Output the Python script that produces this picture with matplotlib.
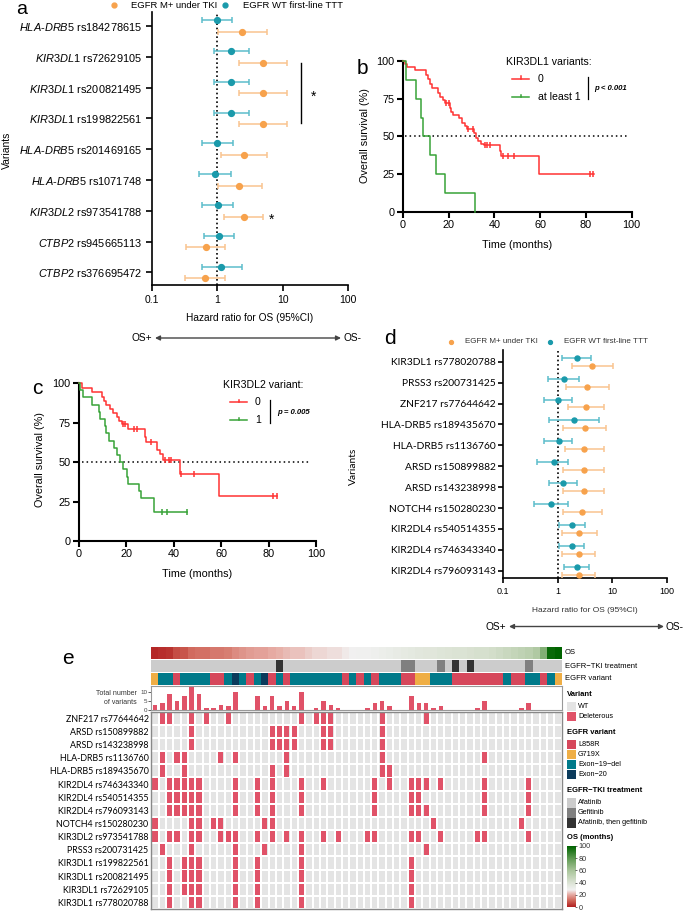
import numpy as np
import matplotlib
matplotlib.use('Agg')
import matplotlib.pyplot as plt
from matplotlib.colors import ListedColormap, LinearSegmentedColormap
from matplotlib.patches import Rectangle
from matplotlib.lines import Line2D

W, H = 685, 911
plt.rcParams['font.family'] = ['Liberation Sans', 'DejaVu Sans']
plt.rcParams['mathtext.fontset'] = 'custom'
plt.rcParams['mathtext.it'] = 'Liberation Sans:italic'
plt.rcParams['mathtext.rm'] = 'Liberation Sans'

ORANGE = '#f7a24c'
ORANGE_L = '#f9c48f'
TEAL = '#1a9aab'
TEAL_L = '#5dbdcb'
KM_RED = '#ff3333'
KM_GREEN = '#38a338'

# ---------------- panel a : forest plot (germline genes, italic) ----------------
a_genes = ['HLA-DRB5', 'KIR3DL1', 'KIR3DL1', 'KIR3DL1', 'HLA-DRB5', 'HLA-DRB5',
           'KIR3DL2', 'CTBP2', 'CTBP2']
a_rs = ['rs184278615', 'rs72629105', 'rs200821495', 'rs199822561', 'rs201469165',
        'rs1071748', 'rs973541788', 'rs945665113', 'rs376695472']
a_hr_m = [2.44, 5.0, 5.0, 5.0, 2.59, 2.17, 2.59, 0.67, 0.66]
a_lo_m = [1.04, 2.15, 2.15, 2.15, 1.14, 1.04, 1.28, 0.34, 0.32]
a_hi_m = [5.69, 11.6, 11.6, 11.6, 5.83, 4.77, 5.06, 1.34, 1.34]
a_hr_w = [1.0, 1.64, 1.64, 1.64, 1.01, 0.94, 1.02, 1.06, 1.16]
a_lo_w = [0.58, 0.89, 0.89, 0.89, 0.59, 0.53, 0.59, 0.62, 0.59]
a_hi_w = [1.70, 3.05, 3.05, 3.05, 1.76, 1.64, 1.76, 1.84, 2.36]

# ---------------- panel d : forest plot ----------------
d_labels = ['KIR3DL1 rs778020788', 'PRSS3 rs200731425', 'ZNF217 rs77644642',
            'HLA-DRB5 rs189435670', 'HLA-DRB5 rs1136760', 'ARSD rs150899882',
            'ARSD rs143238998', 'NOTCH4 rs150280230', 'KIR2DL4 rs540514355',
            'KIR2DL4 rs746343340', 'KIR2DL4 rs796093143']
d_hr_m = [4.33, 3.45, 3.31, 3.13, 3.08, 3.04, 3.04, 2.84, 2.50, 2.43, 2.43]
d_lo_m = [1.81, 1.42, 1.53, 1.23, 1.33, 1.27, 1.27, 1.27, 1.22, 1.22, 1.22]
d_hi_m = [10.5, 8.6, 7.2, 7.7, 7.2, 7.2, 7.2, 6.4, 5.2, 4.85, 4.85]
d_hr_w = [2.26, 1.31, 1.03, 1.97, 1.04, 0.84, 1.25, 0.75, 1.86, 1.81, 2.30]
d_lo_w = [1.22, 0.67, 0.56, 0.70, 0.56, 0.41, 0.70, 0.37, 1.06, 1.06, 1.31]
d_hi_w = [4.09, 2.50, 1.86, 5.6, 1.86, 1.57, 2.23, 1.57, 3.17, 3.08, 3.81]

# ---------------- panel b : KM by KIR3DL1 ----------------
b0_t = [0, 1.0, 1.8, 5.5, 10, 11, 12, 13, 15.5, 16.5, 17.5, 18.5, 20.5, 21, 22, 24.5,
        26, 27, 28, 31, 32, 33, 34, 35.5, 42.5, 43, 59.5, 83.5]
b0_s = [100, 98, 96, 94, 91, 88, 85, 82, 79, 76, 74, 72, 69, 66, 64, 62,
        59, 57, 55, 52, 49, 47, 45, 44, 40, 37, 25, 25]
b0_cens = [19.0, 20.0, 28.5, 30.5, 36, 37, 38, 44, 46, 48.5, 82, 83]
b1_t = [0, 1.5, 5.8, 8.2, 8.8, 12.1, 14.7, 18.5, 31.6]
b1_s = [100, 87.5, 75, 62.5, 50, 37.5, 25, 12.5, 0]

# ---------------- panel c : KM by KIR3DL2 ----------------
c0_t = [0, 1.1, 5.3, 9.6, 10.5, 11.5, 13.1, 14.5, 15.9, 17, 18, 20.8, 27.8, 28.2,
        32.8, 34, 35.6, 42.6, 59, 83.4]
c0_s = [100, 97, 94.5, 91.5, 88.5, 86, 84, 81, 78.5, 76, 74, 71, 66, 63,
        58, 55, 51.5, 42.3, 28.5, 28.5]
c0_cens = [18.7, 19.6, 23, 24.3, 30.2, 36.3, 37.8, 39, 42.9, 48.7, 82, 83.4]
c1_t = [0, 0.5, 1.5, 5.3, 8.3, 8.8, 10.8, 11.5, 12.5, 14.8, 16.2, 17.5, 18.7, 20.2,
        20.8, 25.5, 26.3, 31.5, 31.7, 45.7]
c1_s = [100, 95.5, 91, 86.4, 81.8, 77.3, 72.7, 68.2, 63.6, 59.1, 54.5, 50, 45.5, 40.9,
        36.4, 31.8, 27.3, 22.7, 18.2, 18.2]
c1_cens = [34.9, 37, 45.7]

# ---------------- panel e : oncoprint ----------------
e_rows = ['ZNF217 rs77644642', 'ARSD rs150899882', 'ARSD rs143238998',
          'HLA-DRB5 rs1136760', 'HLA-DRB5 rs189435670', 'KIR2DL4 rs746343340',
          'KIR2DL4 rs540514355', 'KIR2DL4 rs796093143', 'NOTCH4 rs150280230',
          'KIR3DL2 rs973541788', 'PRSS3 rs200731425', 'KIR3DL1 rs199822561',
          'KIR3DL1 rs200821495', 'KIR3DL1 rs72629105', 'KIR3DL1 rs778020788']
e_hits = [
    [1, 2, 5, 7, 10, 20, 22, 23, 24, 31, 37],
    [5, 16, 17, 18, 19, 23, 24, 31],
    [5, 16, 17, 18, 19, 23, 24, 31],
    [1, 3, 4, 9, 11, 18, 31, 45],
    [1, 4, 16, 18, 31, 32],
    [0, 2, 3, 4, 5, 6, 11, 14, 16, 20, 23, 30, 32, 35, 36, 37, 39, 45, 51],
    [2, 3, 4, 5, 6, 11, 14, 16, 20, 30, 35, 36, 45, 51],
    [2, 3, 4, 5, 6, 11, 14, 16, 20, 30, 35, 36, 37, 45, 51],
    [0, 5, 6, 8, 9, 15, 16, 38, 50],
    [0, 2, 3, 5, 6, 9, 10, 11, 14, 16, 18, 20, 23, 25, 29, 30, 35, 36, 39, 44, 45, 51],
    [1, 5, 11, 15, 20, 37],
    [2, 4, 5, 6, 11, 14, 20, 35],
    [2, 4, 5, 6, 11, 14, 20, 35],
    [2, 4, 5, 6, 11, 14, 20, 35],
    [2, 5, 6, 11, 14, 20, 35],
]
n_pat = 56
os_months = [1, 2, 3, 7, 8, 11, 12, 12, 13, 13, 14, 16, 17, 18, 19, 19, 20, 21,
             22, 23, 23, 24, 25, 25, 26, 26, 27, 28, 29, 29, 30, 31, 32, 33, 34, 35,
             36, 37, 37, 38, 39, 40, 40, 41, 42, 42, 43, 45, 47, 49, 51, 53, 57, 70,
             98, 100]
# A = Afatinib, G = Gefitinib, B = Afatinib, then gefitinib
treatment = "AAAAAAAAAAAAAAAAAB" + "AAAAAAAAAAAAAAAA" + "GGAAAGABAB" + "AAAAAAAGAAAA"
# L = L858R, G = G719X, D = Exon-19-del, E = Exon-20
egfr_var = ("GDDLDDDDLLDEDLDELDL" + "DDDDDDD" + "LDLDL" + "DDD" + "LL" + "GG" + "DDD"
            + "LLLLLLL" + "D" + "LL" + "DD" + "L" + "D" + "G")

treat_names = ['Afatinib', 'Gefitinib', 'Afatinib, then gefitinib']
treat_codes = 'AGB'
treat_colors = ['#cccccc', '#808080', '#333333']
var_names = ['L858R', 'G719X', 'Exon\u221219\u2212del', 'Exon\u221220']
var_codes = 'LGDE'
var_colors = ['#d6475b', '#efae45', '#007a8a', '#0b3b5c']
DEL = '#e05268'
WT = '#e4e4e4'

fig = plt.figure(figsize=(W / 100, H / 100), dpi=100)


def px_axes(x0, y0, x1, y1):
    return fig.add_axes([x0 / W, 1 - y1 / H, (x1 - x0) / W, (y1 - y0) / H])


def ftext(x, y, s, **kw):
    kw.setdefault('va', 'center')
    return fig.text(x / W, 1 - y / H, s, **kw)


def fline(x0, x1, y0, y1, **kw):
    fig.add_artist(Line2D([x0 / W, x1 / W], [1 - y0 / H, 1 - y1 / H],
                          transform=fig.transFigure, **kw))


def fdot(x, y, color, ms):
    fig.add_artist(Line2D([x / W], [1 - y / H], marker='o', ms=ms, color=color,
                          ls='none', transform=fig.transFigure))


def farrow(x0, x1, y):
    fig.add_artist(matplotlib.patches.FancyArrowPatch(
        (x0 / W, 1 - y / H), (x1 / W, 1 - y / H), transform=fig.transFigure,
        arrowstyle='<|-|>', mutation_scale=7, color='#444444', lw=1.0,
        shrinkA=0, shrinkB=0))


def forest(ax, n, hr_m, lo_m, hi_m, hr_w, lo_w, hi_w, off, ms, cap):
    y = np.arange(n)
    hr_m, lo_m, hi_m = map(np.array, (hr_m, lo_m, hi_m))
    hr_w, lo_w, hi_w = map(np.array, (hr_w, lo_w, hi_w))
    ax.axvline(1, color='black', ls=(0, (1, 1.6)), lw=1.2, zorder=1)
    ax.errorbar(hr_w, y - off, xerr=[hr_w - lo_w, hi_w - hr_w], fmt='o', color=TEAL,
                ecolor=TEAL_L, ms=ms, elinewidth=1.1, capsize=cap, capthick=1.1, zorder=3)
    ax.errorbar(hr_m, y + off, xerr=[hr_m - lo_m, hi_m - hr_m], fmt='o', color=ORANGE,
                ecolor=ORANGE_L, ms=ms, elinewidth=1.1, capsize=cap, capthick=1.1, zorder=3)
    ax.set_xscale('log')
    ax.set_xlim(0.1, 100)
    ax.set_xticks([0.1, 1, 10, 100])
    ax.set_xticklabels(['0.1', '1', '10', '100'])
    ax.minorticks_off()
    ax.set_yticks(y)
    for s in ['top', 'right']:
        ax.spines[s].set_visible(False)
    for s in ['left', 'bottom']:
        ax.spines[s].set_linewidth(1.2)


def italic_gene(g):
    return '-'.join(r'$\mathit{%s}$' % p for p in g.split('-'))


# ---------- panel a ----------
ax_a = px_axes(151.7, 12, 348, 285)
forest(ax_a, len(a_genes), a_hr_m, a_lo_m, a_hi_m, a_hr_w, a_lo_w, a_hi_w, 0.19, 4.2, 2.5)
ax_a.set_ylim(8.41, -0.455)
ax_a.set_yticklabels([italic_gene(g) + ' ' + r for g, r in zip(a_genes, a_rs)], fontsize=7.9)
ax_a.tick_params(axis='y', length=4, width=1.2, pad=3)
ax_a.tick_params(axis='x', length=4, width=1.2, labelsize=7.5, pad=3)
ax_a.plot([18.9, 18.9], [1.2, 3.14], color='black', lw=1)
ax_a.text(29.5, 2.3, '*', fontsize=10, ha='center', va='center')
ax_a.text(6.8, 6.3, '*', fontsize=10, ha='center', va='center')
ftext(7, 150, 'Variants', rotation=90, ha='center', fontsize=7.5)
ftext(250, 318, 'Hazard ratio for OS (95%CI)', ha='center', fontsize=7.3)
ftext(152, 338, 'OS+', ha='right', fontsize=7.3)
ftext(343, 338, 'OS-', ha='left', fontsize=7.3)
farrow(155, 341, 338)
ftext(16, 14.5, 'a', fontsize=14, va='baseline')
fdot(114, 5, ORANGE, 3.5)
ftext(131, 5, 'EGFR M+ under TKI', fontsize=6.8)
fdot(225, 5, TEAL, 3.5)
ftext(243, 5, 'EGFR WT first-line TTT', fontsize=6.8)


# ---------- KM helper ----------
def km(ax, t, s, cens, color):
    ax.step(t, s, where='post', color=color, lw=1.1, clip_on=False, zorder=3)
    if cens:
        tt = np.array(t)
        idx = np.searchsorted(tt, cens, side='right') - 1
        ax.plot(cens, np.array(s)[idx], ls='none', marker='|', ms=4, mew=1.1,
                color=color, clip_on=False, zorder=3)


def km_axes(ax):
    ax.set_xlim(0, 100)
    ax.set_ylim(0, 100)
    ax.set_xticks([0, 20, 40, 60, 80, 100])
    ax.set_yticks([0, 25, 50, 75, 100])
    for s in ['top', 'right']:
        ax.spines[s].set_visible(False)
    for s in ['left', 'bottom']:
        ax.spines[s].set_linewidth(1.5)
    ax.tick_params(length=4, width=1.5, labelsize=7.8, pad=2)
    ax.hlines(50, 1.2, 98, colors='black', linestyles=(0, (1, 2)), lw=1.1)


# ---------- panel b ----------
ax_b = px_axes(402.7, 61, 631.7, 211.7)
km_axes(ax_b)
km(ax_b, b0_t, b0_s, b0_cens, KM_RED)
km(ax_b, b1_t, b1_s, [], KM_GREEN)
ftext(365, 136, 'Overall survival (%)', rotation=90, ha='center', fontsize=7.8)
ftext(517, 245, 'Time (months)', ha='center', fontsize=7.8)
ftext(357, 68, 'b', fontsize=15)
ftext(506, 62, 'KIR3DL1 variants:', fontsize=7.6)
for y, c, lab in [(78.5, KM_RED, '0'), (97, KM_GREEN, 'at least 1')]:
    fline(512, 529, y, y, color=c, lw=1.1)
    fline(520.5, 520.5, y - 2.2, y, color=c, lw=1.1)
    ftext(538, y, lab, fontsize=7.6)
fline(588, 588, 77, 99, color='black', lw=0.9)
ftext(594, 89, 'p < 0.001', fontsize=5.6, fontweight='bold', fontstyle='italic')

# ---------- panel c ----------
ax_c = px_axes(79, 383.3, 316, 541)
km_axes(ax_c)
km(ax_c, c0_t, c0_s, c0_cens, KM_RED)
km(ax_c, c1_t, c1_s, c1_cens, KM_GREEN)
ftext(40, 460, 'Overall survival (%)', rotation=90, ha='center', fontsize=7.8)
ftext(197, 574, 'Time (months)', ha='center', fontsize=7.8)
ftext(32, 388, 'c', fontsize=15)
ftext(223, 385, 'KIR3DL2 variant:', fontsize=7.6)
for y, c, lab in [(402, KM_RED, '0'), (420, KM_GREEN, '1')]:
    fline(230, 247, y, y, color=c, lw=1.1)
    fline(238.5, 238.5, y - 2.2, y, color=c, lw=1.1)
    ftext(255, y, lab, fontsize=7.6)
fline(270, 270, 400, 423, color='black', lw=0.9)
ftext(277, 413, 'p = 0.005', fontsize=5.6, fontweight='bold', fontstyle='italic')

# ---------- panel d ----------
ax_d = px_axes(503.3, 350, 666.7, 578.3)
forest(ax_d, len(d_labels), d_hr_m, d_lo_m, d_hi_m, d_hr_w, d_lo_w, d_hi_w, 0.19, 3.6, 2.2)
ax_d.set_ylim(10.36, -0.56)
ax_d.set_yticklabels(d_labels, fontsize=7.4, family='Lato')
ax_d.tick_params(axis='y', length=3.5, width=1.2, pad=2)
ax_d.tick_params(axis='x', length=3.5, width=1.2, labelsize=6.5, pad=3)
ftext(353, 466, 'Variants', rotation=90, ha='center', fontsize=7.4, family='Lato')
ftext(585, 610, 'Hazard ratio for OS (95%CI)', ha='center', fontsize=6.0, color='#333333')
ftext(506, 626.5, 'OS+', ha='right', fontsize=7.3)
ftext(665, 626.5, 'OS-', ha='left', fontsize=7.3)
farrow(509, 664, 626.5)
ftext(384, 338, 'd', fontsize=15)
fdot(451, 341.5, ORANGE, 2.8)
ftext(465, 341.5, 'EGFR M+ under TKI', fontsize=5.8, color='#333333')
fdot(550, 341.5, TEAL, 2.8)
ftext(564, 341.5, 'EGFR WT first-line TTT', fontsize=5.8, color='#333333')

# ---------- panel e ----------
X0, X1 = 151.3, 561.7
os_cmap = LinearSegmentedColormap.from_list('os', [
    (0.0, '#b22222'), (0.1, '#cf6457'), (0.2, '#e6aaa2'), (0.28, '#f2f2f2'),
    (0.4, '#dbe3d4'), (0.6, '#a9c59a'), (0.8, '#5e9a52'), (1.0, '#006400')])

ax_os = px_axes(X0, 646.7, X1, 659)
ax_os.imshow(np.array(os_months)[None, :], cmap=os_cmap, vmin=0, vmax=100,
             aspect='auto', extent=(0, n_pat, 0, 1))
ax_tr = px_axes(X0, 660, X1, 672.3)
ax_tr.imshow(np.array([treat_codes.index(c) for c in treatment])[None, :],
             cmap=ListedColormap(treat_colors), vmin=-0.5, vmax=2.5,
             aspect='auto', extent=(0, n_pat, 0, 1))
ax_var = px_axes(X0, 673.3, X1, 685)
ax_var.imshow(np.array([var_codes.index(c) for c in egfr_var])[None, :],
              cmap=ListedColormap(var_colors), vmin=-0.5, vmax=3.5,
              aspect='auto', extent=(0, n_pat, 0, 1))
for ax in (ax_os, ax_tr, ax_var):
    ax.axis('off')

mat = np.zeros((len(e_rows), n_pat))
for r, cols in enumerate(e_hits):
    mat[r, cols] = 1
totals = mat.sum(axis=0)

ax_bar = px_axes(X0, 685.7, X1, 710)
ax_bar.bar(np.arange(n_pat) + 0.5, totals, width=0.62, color=DEL)
ax_bar.set_xlim(0, n_pat)
ax_bar.set_ylim(0, 13.8)
ax_bar.set_xticks([])
ax_bar.set_yticks([0, 5, 10])
ax_bar.tick_params(axis='y', length=2, width=0.6, labelsize=4.5, pad=1, colors='#444444')
for s in ax_bar.spines.values():
    s.set_color('#999999')
    s.set_linewidth(0.8)
ftext(137, 693.5, 'Total number', ha='right', fontsize=5, color='#333333')
ftext(137, 703, 'of variants', ha='right', fontsize=5, color='#333333')

ax_hm = px_axes(X0, 711.7, X1, 909)
ax_hm.pcolormesh(np.zeros_like(mat), cmap=ListedColormap([WT]), edgecolors='white',
                 linewidth=1.1)
for r, cols in enumerate(e_hits):
    for c in cols:
        ax_hm.add_patch(Rectangle((c + 0.15, r + 0.07), 0.7, 0.86, facecolor=DEL,
                                  edgecolor='none'))
ax_hm.set_xlim(0, n_pat)
ax_hm.set_ylim(len(e_rows), 0)
ax_hm.set_xticks([])
ax_hm.set_yticks(np.arange(len(e_rows)) + 0.5)
ax_hm.set_yticklabels(e_rows, fontsize=6.4, family='Lato')
ax_hm.tick_params(axis='y', length=0, pad=2)
for s in ax_hm.spines.values():
    s.set_color('#888888')
    s.set_linewidth(1.0)

ftext(62, 659, 'e', fontsize=15)
ftext(565, 652.7, 'OS', fontsize=5.5)
ftext(565, 666, 'EGFR\u2212TKI treatment', fontsize=5.5)
ftext(565, 678.5, 'EGFR variant', fontsize=5.5)


def leg_box(y0, y1, color):
    fig.add_artist(Rectangle((566.7 / W, 1 - y1 / H), 9 / W, (y1 - y0) / H,
                             facecolor=color, edgecolor='none', transform=fig.transFigure))


ftext(566.7, 694, 'Variant', fontsize=5.5, fontweight='bold')
leg_box(702.3, 711, WT)
ftext(578, 706.7, 'WT', fontsize=5.2)
leg_box(712.3, 721, DEL)
ftext(578, 716.7, 'Deleterous', fontsize=5.2)
ftext(566.7, 732.3, 'EGFR variant', fontsize=5.5, fontweight='bold')
for i, (nm, col) in enumerate(zip(var_names, var_colors)):
    y0 = 740 + 10 * i
    leg_box(y0, y0 + 9, col)
    ftext(578, y0 + 4.7, nm, fontsize=5.2)
ftext(566.7, 790.7, 'EGFR\u2212TKI treatment', fontsize=5.5, fontweight='bold')
for i, (nm, col) in enumerate(zip(treat_names, treat_colors)):
    y0 = 798 + 10 * i
    leg_box(y0, y0 + 9.5, col)
    ftext(578, y0 + 4.7, nm, fontsize=5.2)
ftext(566.7, 837.3, 'OS (months)', fontsize=5.5, fontweight='bold')
ax_cb = px_axes(566.7, 846, 575, 907)
ax_cb.imshow(np.linspace(100, 0, 200)[:, None], cmap=os_cmap, vmin=0, vmax=100,
             aspect='auto', extent=(0, 1, 0, 100))
ax_cb.set_xticks([])
ax_cb.yaxis.tick_right()
ax_cb.set_yticks([0, 20, 40, 60, 80, 100])
ax_cb.tick_params(axis='y', length=1.5, width=0.5, labelsize=5.2, pad=1, colors='#333333')
for s in ax_cb.spines.values():
    s.set_visible(False)

fig.savefig('out.png', dpi=100)
